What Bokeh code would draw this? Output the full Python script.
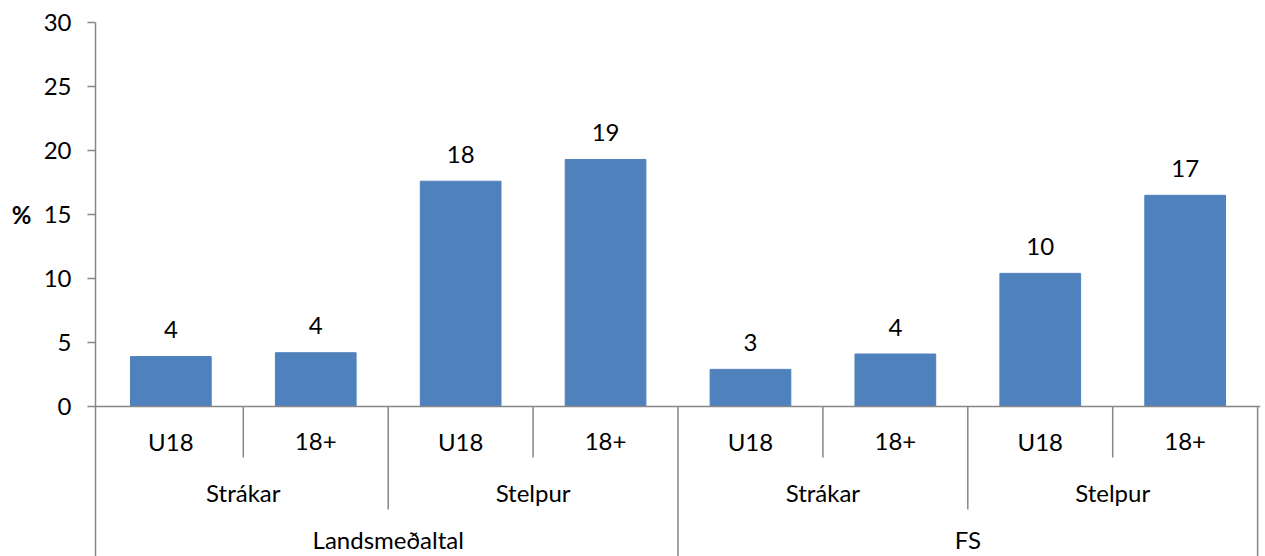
from bokeh.plotting import figure
from bokeh.models import FactorRange, Range1d, FixedTicker, Span, LinearAxis
from bokeh.core.properties import value
from bokeh.embed import file_html
from bokeh.resources import INLINE

# ---------------- data ----------------
regions = ["Landsmeðaltal", "Landsmeðaltal", "Landsmeðaltal", "Landsmeðaltal",
           "FS", "FS", "FS", "FS"]
genders = ["Strákar", "Strákar", "Stelpur", "Stelpur",
           "Strákar", "Strákar", "Stelpur", "Stelpur"]
ages = ["U18", "18+", "U18", "18+", "U18", "18+", "U18", "18+"]
values = [3.9, 4.2, 17.6, 19.3, 2.9, 4.1, 10.4, 16.5]
y_ticks = [0, 5, 10, 15, 20, 25, 30]
y_label = "%"

factors = list(zip(regions, genders, ages))
labels = [str(int(v + 0.5)) for v in values]
y_mid = (y_ticks[0] + y_ticks[-1]) / 2

# ---------------- style / layout ----------------
FONT = "Lato"
FSIZE = "24px"
GRAY = "#868686"
BAR = "#4F81BD"
PXU = 30 / 384.0          # data units per pixel
Y_BOTTOM = -150 * PXU     # frame bottom below zero
ROW_Y = [-35 * PXU, -86 * PXU, -133 * PXU]
SEP_END = [-51 * PXU, -103 * PXU, Y_BOTTOM - 1]

p = figure(width=1265, height=556, output_backend="svg", toolbar_location=None,
           x_range=FactorRange(factors=factors, factor_padding=0, subgroup_padding=0,
                               group_padding=0, range_padding=0.02,
                               range_padding_units="absolute"),
           y_range=Range1d(Y_BOTTOM, 30),
           min_border_left=95, min_border_right=5, min_border_top=22, min_border_bottom=0)

p.outline_line_color = None
p.xgrid.visible = False
p.ygrid.visible = False
p.xaxis.visible = False

ax = p.yaxis[0]
ax.ticker = FixedTicker(ticks=y_ticks)
ax.axis_line_color = GRAY
ax.axis_line_width = 1.5
ax.major_tick_line_color = GRAY
ax.major_tick_line_width = 1.5
ax.major_tick_out = 8
ax.major_tick_in = 0
ax.minor_tick_line_color = None
ax.major_label_standoff = 16
ax.major_label_text_font = FONT
ax.major_label_text_font_size = FSIZE
ax.major_label_text_color = "black"

# outer left axis whose single tick label is the "%" title at the middle of 0-30
lab_ax = LinearAxis(ticker=FixedTicker(ticks=[y_mid]), axis_line_color=None,
                    major_tick_line_color=None, minor_tick_line_color=None,
                    major_tick_out=0, major_tick_in=0, major_label_standoff=9,
                    major_label_overrides={y_mid: y_label},
                    major_label_text_font=FONT, major_label_text_font_size=FSIZE,
                    major_label_text_font_style="bold", major_label_text_color="black")
p.add_layout(lab_ax, "left")

# bars
p.vbar(x=factors, top=values, bottom=0, width=0.557, fill_color=BAR, line_color=BAR)

# zero line
p.add_layout(Span(location=0, dimension="width", line_color=GRAY, line_width=1.5))

# value labels
p.text(x=factors, y=values, text=labels, text_align="center", text_baseline="alphabetic",
       y_offset=-27, text_font=value(FONT), text_font_size=FSIZE, text_color="black")

# category separators
n = len(factors)
sep_x, sep_end = [], []
for i in range(1, n + 1):
    if i == n or factors[i - 1][0] != factors[i][0]:
        lvl = 2
    elif factors[i - 1][1] != factors[i][1]:
        lvl = 1
    else:
        lvl = 0
    sep_x.append(i)
    sep_end.append(SEP_END[lvl])
p.segment(x0=sep_x, y0=[0] * len(sep_x), x1=sep_x, y1=sep_end, line_color=GRAY, line_width=1.5)

# category labels, level 1
p.text(x=factors, y=[ROW_Y[0]] * n, text=ages, text_align="center", text_baseline="middle",
       text_font=value(FONT), text_font_size=FSIZE, text_color="black")


def runs(keys):
    out = []
    start = 0
    for i in range(1, len(keys) + 1):
        if i == len(keys) or keys[i] != keys[start]:
            out.append(((start + i) / 2.0, keys[start]))
            start = i
    return out


lvl2 = runs([(r, g) for r, g in zip(regions, genders)])
p.text(x=[c for c, _ in lvl2], y=[ROW_Y[1]] * len(lvl2), text=[k[1] for _, k in lvl2],
       text_align="center", text_baseline="middle",
       text_font=value(FONT), text_font_size=FSIZE, text_color="black")

lvl3 = runs(regions)
p.text(x=[c for c, _ in lvl3], y=[ROW_Y[2]] * len(lvl3), text=[k for _, k in lvl3],
       text_align="center", text_baseline="middle",
       text_font=value(FONT), text_font_size=FSIZE, text_color="black")

open("out.html", "w").write(file_html(p, INLINE))
